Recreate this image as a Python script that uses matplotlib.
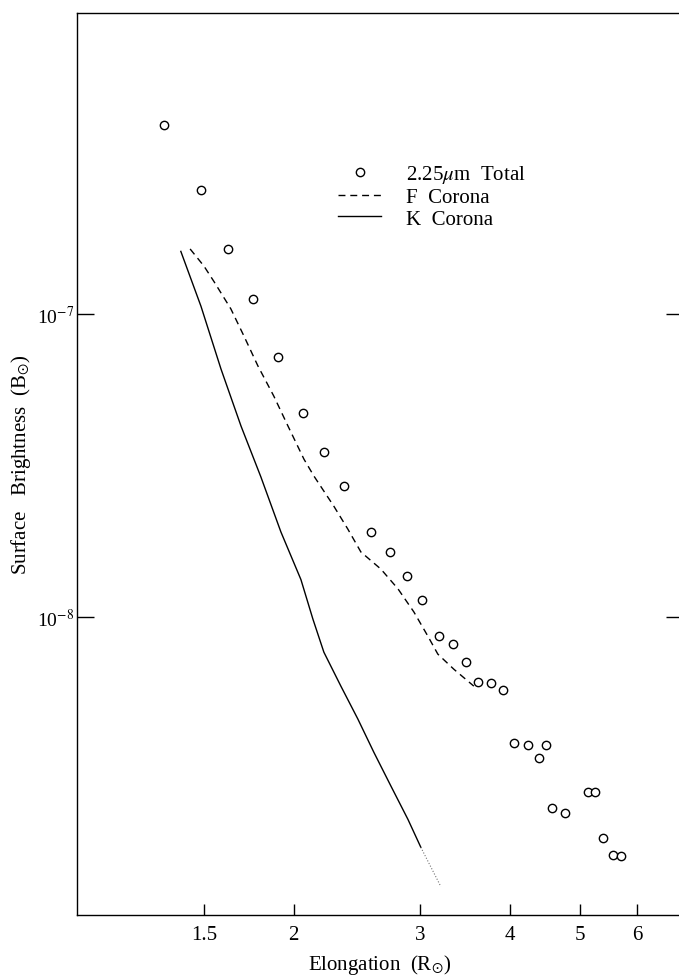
import matplotlib.pyplot as plt
from matplotlib.ticker import FixedLocator, NullLocator, FixedFormatter

# 2.25 micron total brightness (circles)
total_elong = [1.321, 1.487, 1.621, 1.756, 1.905, 2.060, 2.203, 2.349, 2.561, 2.721,
               2.873, 3.015, 3.183, 3.328, 3.470, 3.606, 3.758, 3.906, 4.045, 4.231,
               4.382, 4.481, 4.568, 4.762, 5.126, 5.242, 5.378, 5.553, 5.697]
total_bright = [4.21e-7, 2.57e-7, 1.64e-7, 1.12e-7, 7.21e-8, 4.71e-8, 3.50e-8, 2.71e-8,
                1.91e-8, 1.64e-8, 1.37e-8, 1.14e-8, 8.66e-9, 8.14e-9, 7.10e-9, 6.10e-9,
                6.06e-9, 5.74e-9, 3.84e-9, 3.78e-9, 3.42e-9, 3.78e-9, 2.34e-9, 2.25e-9,
                2.64e-9, 2.64e-9, 1.86e-9, 1.64e-9, 1.63e-9]

# F corona (dashed)
f_elong = [1.436, 1.501, 1.550, 1.636, 1.706, 1.784, 1.877, 1.964, 2.067, 2.134,
           2.275, 2.379, 2.480, 2.644, 2.792, 2.938, 3.072, 3.172, 3.339, 3.559]
f_bright = [1.64e-7, 1.44e-7, 1.28e-7, 1.04e-7, 8.46e-8, 6.74e-8, 5.36e-8, 4.27e-8,
            3.32e-8, 2.92e-8, 2.32e-8, 1.95e-8, 1.64e-8, 1.44e-8, 1.24e-8, 1.04e-8,
            8.66e-9, 7.55e-9, 6.73e-9, 5.92e-9]

# K corona (solid, faint dotted tail at the end)
k_elong = [1.394, 1.487, 1.585, 1.690, 1.801, 1.920, 2.047, 2.127, 2.203, 2.326,
           2.456, 2.585, 2.730, 2.883, 3.004]
k_bright = [1.61e-7, 1.06e-7, 6.59e-8, 4.27e-8, 2.90e-8, 1.91e-8, 1.33e-8, 9.85e-9,
            7.66e-9, 5.92e-9, 4.61e-9, 3.58e-9, 2.77e-9, 2.15e-9, 1.74e-9]
k_tail_elong = [3.004, 3.203]
k_tail_bright = [1.74e-9, 1.29e-9]

xticks = [1.5, 2, 3, 4, 5, 6]
xticklabels = ['1.5', '2', '3', '4', '5', '6']
yticks = [1e-8, 1e-7]
yticklabels = ['10$^{-8}$', '10$^{-7}$']

plt.rcParams['font.family'] = ['Liberation Serif', 'DejaVu Serif']
plt.rcParams['mathtext.fontset'] = 'stix'

fig = plt.figure(figsize=(6.79, 9.78), dpi=100)
ax = fig.add_axes([77 / 679, 62 / 978, (683 - 77) / 679, (916 - 14) / 978])

ax.plot(total_elong, total_bright, 'o', ms=6, mfc='white', mec='black', mew=1.0,
        label='2.25$\\mu$m  Total')
ax.plot(f_elong, f_bright, color='black', lw=1.0, dashes=(5, 3.5), label='F  Corona')
ax.plot(k_elong, k_bright, color='black', lw=1.0, label='K  Corona')
ax.plot(k_tail_elong, k_tail_bright, color='0.45', lw=0.8, ls=':')

ax.set_xscale('log')
ax.set_yscale('log')
ax.set_xlim(1.0, 6.95)
ax.set_ylim(1.04e-9, 9.85e-7)

ax.xaxis.set_major_locator(FixedLocator(xticks))
ax.xaxis.set_major_formatter(FixedFormatter(xticklabels))
ax.xaxis.set_minor_locator(NullLocator())
ax.yaxis.set_major_locator(FixedLocator(yticks))
ax.yaxis.set_major_formatter(FixedFormatter(yticklabels))
ax.yaxis.set_minor_locator(NullLocator())

ax.tick_params(axis='x', direction='in', length=8, width=1, labelsize=15, pad=7)
ax.tick_params(axis='y', direction='in', length=12, width=1, labelsize=14, pad=2,
               right=True)
for s in ax.spines.values():
    s.set_linewidth(1.0)

ax.set_xlabel('Elongation  (R$_{\\odot}$)', fontsize=15, labelpad=6)
ax.set_ylabel('Surface   Brightness  (B$_{\\odot}$)', fontsize=15)
ax.yaxis.set_label_coords(-0.072, 0.5)

ax.legend(loc='upper left', bbox_to_anchor=(0.413, 0.845), frameon=False, fontsize=15,
          handlelength=2.1, handletextpad=1.2, labelspacing=0.1, borderpad=0)

fig.savefig('out.png', dpi=100)
